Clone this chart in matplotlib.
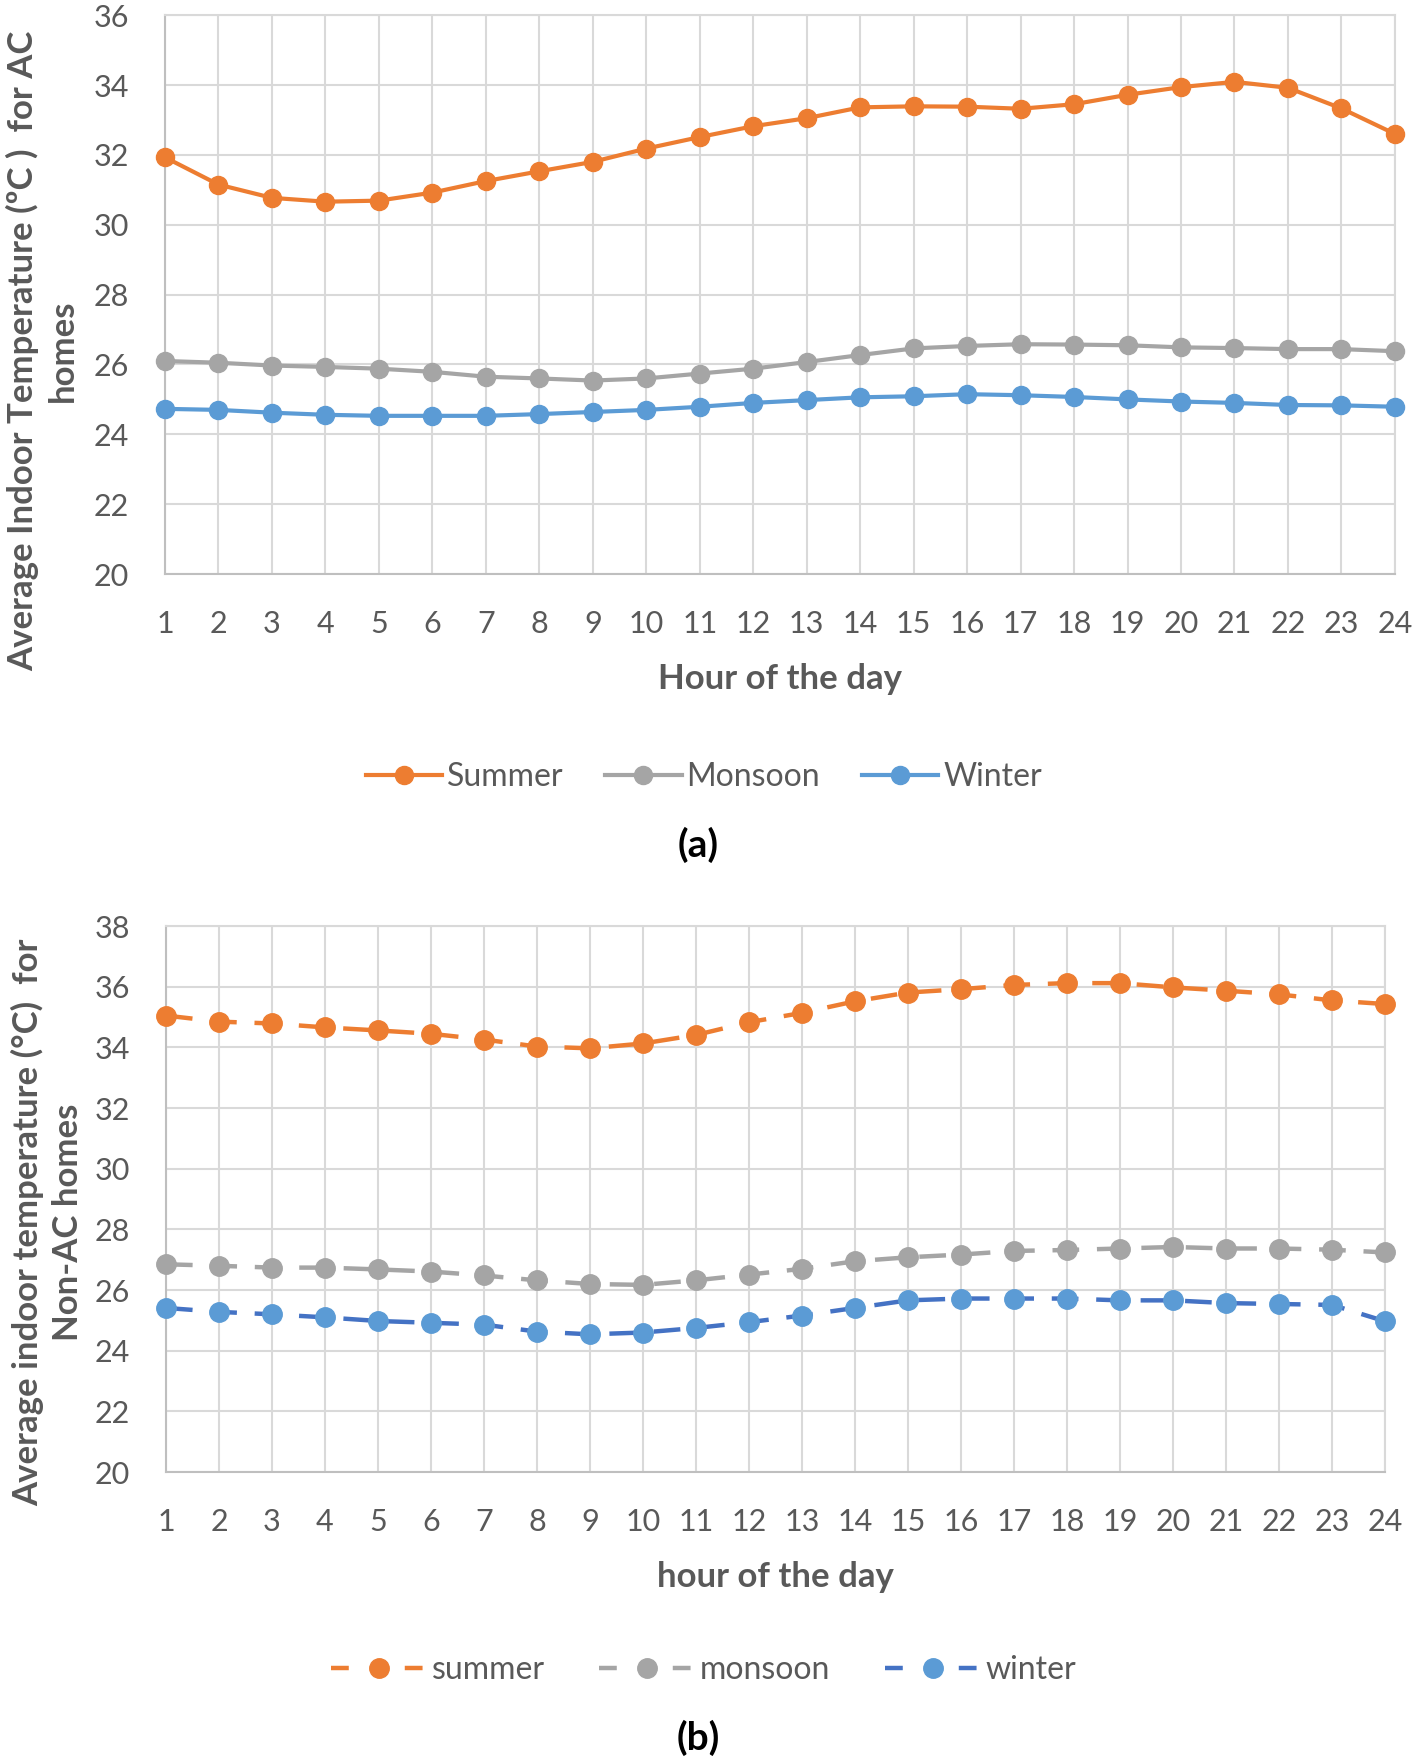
import matplotlib.pyplot as plt
from matplotlib.lines import Line2D
import numpy as np


hours = list(range(1, 25))

# (a) AC homes
ac_summer = [31.93, 31.15, 30.77, 30.66, 30.69, 30.92, 31.25, 31.53, 31.80, 32.18, 32.51, 32.82,
	33.05, 33.36, 33.39, 33.38, 33.32, 33.45, 33.72, 33.94, 34.09, 33.92, 33.33, 32.60]
ac_monsoon = [26.10, 26.05, 25.97, 25.93, 25.88, 25.79, 25.65, 25.60, 25.54, 25.60, 25.74, 25.88,
	26.07, 26.27, 26.46, 26.53, 26.58, 26.57, 26.55, 26.49, 26.47, 26.44, 26.44, 26.38]
ac_winter = [24.73, 24.70, 24.62, 24.56, 24.53, 24.53, 24.53, 24.58, 24.64, 24.70, 24.79, 24.90,
	24.98, 25.06, 25.09, 25.15, 25.12, 25.07, 25.00, 24.94, 24.90, 24.84, 24.83, 24.79]

# (b) Non-AC homes
nonac_summer = [35.05, 34.85, 34.79, 34.66, 34.56, 34.45, 34.26, 34.03, 33.97, 34.13, 34.41, 34.83,
	35.14, 35.52, 35.81, 35.92, 36.06, 36.12, 36.12, 35.98, 35.87, 35.75, 35.55, 35.43]
nonac_monsoon = [26.85, 26.80, 26.74, 26.74, 26.68, 26.61, 26.48, 26.32, 26.20, 26.17, 26.32, 26.51,
	26.70, 26.95, 27.08, 27.17, 27.29, 27.32, 27.37, 27.42, 27.37, 27.37, 27.33, 27.24]
nonac_winter = [25.41, 25.28, 25.20, 25.10, 24.98, 24.92, 24.86, 24.63, 24.54, 24.60, 24.75, 24.94,
	25.16, 25.41, 25.66, 25.72, 25.72, 25.72, 25.66, 25.66, 25.57, 25.54, 25.51, 24.97]

ORANGE = "#ED7D31"
GRAY = "#A5A5A5"
BLUE = "#5B9BD5"
DARK_BLUE = "#4472C4"
TEXT = "#595959"

plt.rcParams["font.family"] = ["Lato", "DejaVu Sans"]

default_fontsize = 22


def style_axes(ax, ymin, ymax):
	ax.set_xlim(1, 24)
	ax.set_ylim(ymin, ymax)
	ax.set_xticks(hours)
	ax.set_yticks(np.arange(ymin, ymax + 1, 2))
	ax.grid(color="#D9D9D9", linewidth=1.5)
	ax.set_axisbelow(True)
	for side in ["top", "right"]:
		ax.spines[side].set_color("#D9D9D9")
		ax.spines[side].set_linewidth(1.5)
	for side in ["left", "bottom"]:
		ax.spines[side].set_color("#BFBFBF")
		ax.spines[side].set_linewidth(1.5)
	ax.tick_params(
		axis="both",
		length=0,
		labelsize=default_fontsize,
		labelcolor=TEXT,
	)
	ax.tick_params(axis="x", pad=26)
	ax.tick_params(axis="y", pad=26)


fig = plt.figure(figsize=(14.16, 17.61), dpi=100)

# ---- (a)
ax1 = fig.add_axes([0.1165, 0.674, 0.8686, 0.3174])
style_axes(ax1, 20, 36)
lines_a = []
for vals, color, label in [
	(ac_summer, ORANGE, "Summer"),
	(ac_monsoon, GRAY, "Monsoon"),
	(ac_winter, BLUE, "Winter"),
]:
	l, = ax1.plot(hours, vals, color=color, linewidth=3, marker="o",
		markersize=13, label=label, clip_on=False, zorder=3)
	lines_a.append(l)
ax1.set_xlabel("Hour of the day", fontsize=25, fontweight="bold",
	color=TEXT, labelpad=18)
fig.text(0.0297, 0.801, "Average Indoor Temperature (ºC )  for AC\nhomes",
	rotation=90, ha="center", va="center", multialignment="center",
	fontsize=25, fontweight="bold", color=TEXT, linespacing=1.3)
fig.legend(handles=lines_a, loc="center", bbox_to_anchor=(0.497, 1 - 777 / 1761),
	ncol=3, frameon=False, fontsize=23, handlelength=2.4, handletextpad=0.15,
	columnspacing=1.3, labelcolor=TEXT)
fig.text(0.493, 1 - 845 / 1761, "(a)", ha="center", va="center",
	fontsize=28, fontweight="bold", color="black")

# ---- (b)
ax2 = fig.add_axes([0.1172, 0.1641, 0.8609, 0.310])
style_axes(ax2, 20, 38)
handles_b = []
for vals, lcolor, mcolor, label in [
	(nonac_summer, ORANGE, ORANGE, "summer"),
	(nonac_monsoon, GRAY, GRAY, "monsoon"),
	(nonac_winter, DARK_BLUE, BLUE, "winter"),
]:
	ax2.plot(hours, vals, color=lcolor, linewidth=3.2, linestyle=(0, (6, 4)),
		marker="o", markersize=14, markerfacecolor=mcolor, markeredgecolor=mcolor,
		label=label, clip_on=False, zorder=3)
	# legend handle: short dash, marker, short dash
	handles_b.append(Line2D([], [], color=lcolor, linewidth=3.2,
		linestyle=(0, (4.0, 12.6)), marker="o", markersize=14,
		markerfacecolor=mcolor, markeredgecolor=mcolor, label=label))
ax2.set_xlabel("hour of the day", fontsize=25, fontweight="bold",
	color=TEXT, labelpad=18)
fig.text(0.0335, 0.306, "Average indoor temperature (°C)  for\nNon-AC homes",
	rotation=90, ha="center", va="center", multialignment="center",
	fontsize=25, fontweight="bold", color=TEXT, linespacing=1.3)
fig.legend(handles=handles_b, loc="center", bbox_to_anchor=(0.497, 1 - 1670 / 1761),
	ncol=3, frameon=False, fontsize=23, handlelength=3.0, handletextpad=0.15,
	columnspacing=1.7, labelcolor=TEXT)
fig.text(0.493, 1 - 1738 / 1761, "(b)", ha="center", va="center",
	fontsize=28, fontweight="bold", color="black")

plt.savefig("out.png", dpi=100, facecolor="white")
plt.close()
